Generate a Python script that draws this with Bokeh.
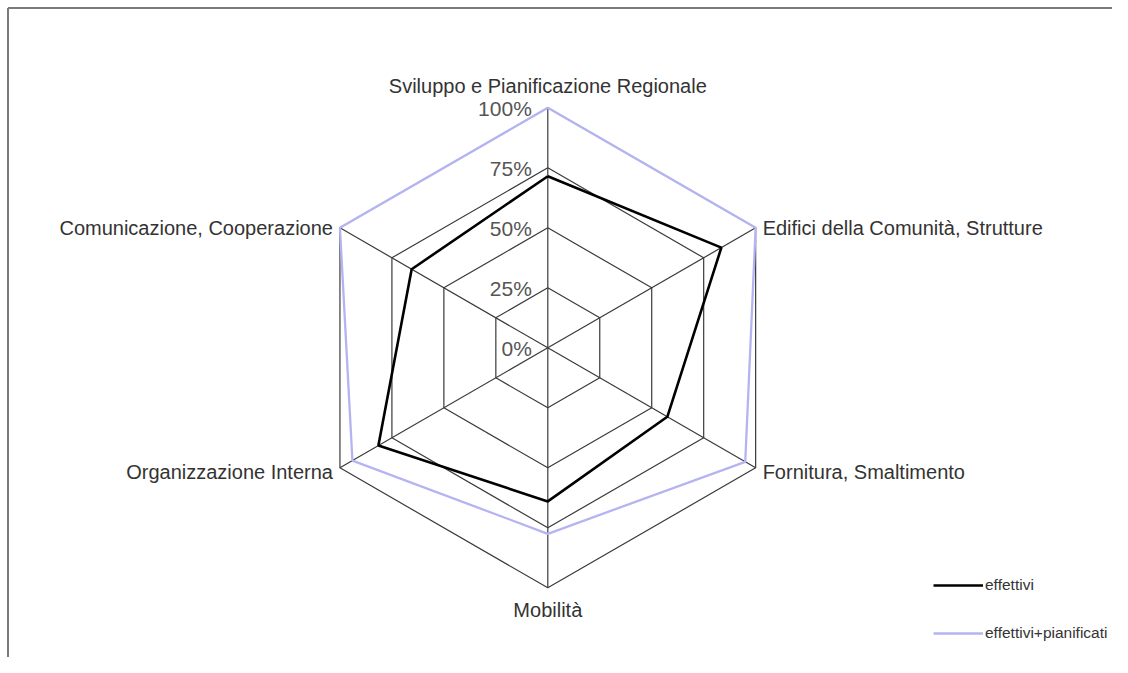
import numpy as np
from bokeh.plotting import figure
from bokeh.models import Range1d, ColumnDataSource, Legend, LegendItem
from bokeh.embed import file_html
from bokeh.resources import INLINE
from bokeh.core.properties import value

# ---- data ----
categories = [
    "Sviluppo e Pianificazione Regionale",
    "Edifici della Comunità, Strutture",
    "Fornitura, Smaltimento",
    "Mobilità",
    "Organizzazione Interna",
    "Comunicazione, Cooperazione",
]
effettivi = [71.5, 83.5, 57.5, 64.0, 81.5, 65.5]
effettivi_pianificati = [100.0, 100.0, 95.0, 77.5, 94.0, 100.0]
tick_values = [0, 25, 50, 75, 100]
tick_labels = ["0%", "25%", "50%", "75%", "100%"]
series_names = ["effettivi", "effettivi+pianificati"]

# ---- layout / style ----
W, H = 1112, 657
PX = 240.0              # pixels per 100%
CX, CY = 547.3, 347.3   # centre of the radar inside the canvas (from top-left)
BORDER = 7.5            # frame border offset in px
FONT = "Liberation Sans"

x0, x1 = -CX / PX, (W - CX) / PX
y0, y1 = -(H - CY) / PX, CY / PX

p = figure(width=W, height=H, output_backend="svg", toolbar_location=None,
           x_range=Range1d(x0, x1), y_range=Range1d(y0, y1),
           min_border=0, outline_line_color=None)
p.axis.visible = False
p.grid.visible = False

n = len(categories)
ang = np.pi / 2 - np.arange(n) * 2 * np.pi / n
cosA, sinA = np.cos(ang), np.sin(ang)

# grid hexagons
grid_color = "#3a3a3a"
for t in tick_values[1:]:
    r = t / 100.0
    p.line(list(np.append(r * cosA, r * cosA[0])), list(np.append(r * sinA, r * sinA[0])),
           line_color=grid_color, line_width=1.2)
# spokes
p.multi_line(xs=[[0, c] for c in cosA], ys=[[0, s] for s in sinA],
             line_color=grid_color, line_width=1.2)

def closed(vals):
    r = np.array(vals) / 100.0
    xs = r * cosA
    ys = r * sinA
    return list(np.append(xs, xs[0])), list(np.append(ys, ys[0]))

px_, py_ = closed(effettivi_pianificati)
r_plan = p.line(px_, py_, line_color="#b4b4f2", line_width=2.3)
ex_, ey_ = closed(effettivi)
r_eff = p.line(ex_, ey_, line_color="#000000", line_width=2.6)

# tick labels along the top spoke
p.text(x=[0] * len(tick_values), y=[t / 100.0 for t in tick_values], text=tick_labels,
       x_offset=-16, y_offset=1, text_align="right", text_baseline="middle",
       text_font=value(FONT), text_font_size="21px", text_color="#555555")

# category labels
aligns, xoffs, yoffs = [], [], []
for c, s in zip(cosA, sinA):
    if abs(c) < 1e-6:
        aligns.append("center")
        xoffs.append(0)
        yoffs.append(-22 if s > 0 else 22)
    elif c > 0:
        aligns.append("left")
        xoffs.append(7)
        yoffs.append(0 if s > 0 else 4)
    else:
        aligns.append("right")
        xoffs.append(-7)
        yoffs.append(0 if s > 0 else 4)
src = ColumnDataSource(dict(x=list(cosA), y=list(sinA), text=categories,
                            align=aligns, xo=xoffs, yo=yoffs))
p.text(x="x", y="y", text="text", source=src, x_offset="xo", y_offset="yo",
       text_align="align", text_baseline="middle",
       text_font=value(FONT), text_font_size="20px", text_color="#333333")

# frame border (top and left only, as in the original)
bx = x0 + BORDER / PX
by = y1 - BORDER / PX
p.line([bx, x1], [by, by], line_color="#7a7a7a", line_width=2)
p.line([bx, bx], [y0, by], line_color="#7a7a7a", line_width=2)

legend = Legend(items=[LegendItem(label=series_names[0], renderers=[r_eff]),
                       LegendItem(label=series_names[1], renderers=[r_plan])],
                location=(933, 14), orientation="vertical",
                glyph_width=50, glyph_height=20, label_height=20, spacing=28,
                label_standoff=2, padding=0, margin=0,
                border_line_color=None, background_fill_alpha=0,
                label_text_font=FONT, label_text_font_size="15.5px",
                label_text_color="#333333")
p.add_layout(legend)

open("out.html", "w").write(file_html(p, INLINE))
